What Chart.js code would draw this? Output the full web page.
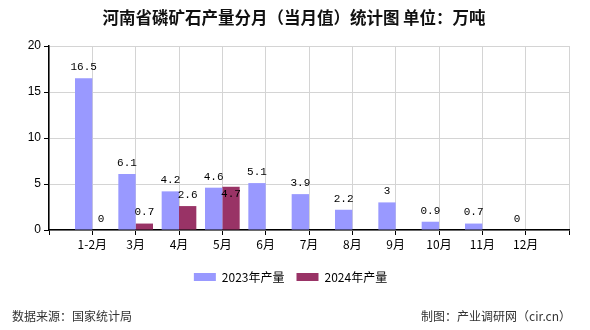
<!DOCTYPE html>
<html>
<head>
<meta charset="utf-8">
<script src="https://cdn.jsdelivr.net/npm/chart.js@4"></script>
<style>
  body { margin: 0; background: #fff; }
</style>
</head>
<body>
<canvas id="chart" width="590" height="330"></canvas>
<script>
const titleText = "河南省磷矿石产量分月（当月值）统计图 单位：万吨";
const sourceText = "数据来源：国家统计局";
const creditText = "制图：产业调研网（cir.cn）";

const months = ["1-2月", "3月", "4月", "5月", "6月", "7月", "8月", "9月", "10月", "11月", "12月"];
const output2023 = [16.5, 6.1, 4.2, 4.6, 5.1, 3.9, 2.2, 3, 0.9, 0.7, 0];
const output2024 = [0, 0.7, 2.6, 4.7, null, null, null, null, null, null, null];
const yTicks = [0, 5, 10, 15, 20];

// empty slot on each side so the months sit on the grid lines
const labels = ["", ...months, ""];
const pad = (arr) => [null, ...arr, null];

const cjk = '"Noto Sans CJK SC", "Noto Sans", sans-serif';

// title, footer and value labels
const extras = {
  id: "extras",
  afterDatasetsDraw(chart) {
    const ctx = chart.ctx;
    ctx.save();
    ctx.fillStyle = "#000";
    ctx.font = '11px "Liberation Mono", monospace';
    ctx.textAlign = "center";
    ctx.textBaseline = "middle";
    const prevY = {};
    chart.data.datasets.forEach((ds, i) => {
      chart.getDatasetMeta(i).data.forEach((bar, j) => {
        const v = ds.data[j];
        if (v === null || v === undefined) return;
        let y = bar.y - 11;
        // push a label down when it would sit on the previous series' label
        if (prevY[j] !== undefined && Math.abs(y - prevY[j]) < 12) y = prevY[j] + 17;
        prevY[j] = y;
        ctx.fillText(String(v), bar.x, y);
      });
    });
    ctx.restore();
  },
  afterDraw(chart) {
    const ctx = chart.ctx;
    ctx.save();
    ctx.textBaseline = "middle";
    ctx.fillStyle = "#111";
    ctx.font = "600 16.5px " + cjk;
    ctx.textAlign = "center";
    ctx.fillText(titleText, 294, 18);
    ctx.fillStyle = "#333";
    ctx.font = "12px " + cjk;
    ctx.textAlign = "left";
    ctx.fillText(sourceText, 12, 316);
    ctx.textAlign = "right";
    ctx.fillText(creditText, 571, 316);
    ctx.restore();
  },
};

new Chart(document.getElementById("chart"), {
  type: "bar",
  data: {
    labels: labels,
    datasets: [
      {
        label: "2023年产量",
        data: pad(output2023),
        backgroundColor: "#9999ff",
        categoryPercentage: 0.8,
        barPercentage: 1.0,
      },
      {
        label: "2024年产量",
        data: pad(output2024),
        backgroundColor: "#993366",
        categoryPercentage: 0.8,
        barPercentage: 1.0,
      },
    ],
  },
  options: {
    responsive: false,
    animation: false,
    layout: { padding: { left: 12, right: 21, top: 46, bottom: 37 } },
    plugins: {
      title: { display: false },
      tooltip: { enabled: false },
      legend: {
        position: "bottom",
        labels: {
          boxWidth: 22,
          boxHeight: 8,
          padding: 12,
          color: "#000",
          font: { size: 12, family: cjk },
        },
      },
    },
    scales: {
      x: {
        offset: false,
        grid: { offset: false, color: "#d4d4d4", tickColor: "#000", tickLength: 5 },
        border: { color: "#000", width: 1.5 },
        ticks: {
          autoSkip: false,
          maxRotation: 0,
          padding: 2,
          color: "#000",
          font: { size: 12, family: cjk },
        },
        afterFit(scale) { scale.height = 29; },
      },
      y: {
        min: 0,
        max: 20,
        afterBuildTicks(scale) { scale.ticks = yTicks.map((v) => ({ value: v })); },
        grid: { color: "#d4d4d4", tickColor: "#000", tickLength: 5 },
        border: { color: "#000", width: 1.5 },
        ticks: {
          padding: 3,
          color: "#000",
          font: { size: 12, family: '"Liberation Sans", sans-serif' },
        },
        afterFit(scale) { scale.width = 37; },
      },
    },
  },
  plugins: [extras],
});
</script>
</body>
</html>
